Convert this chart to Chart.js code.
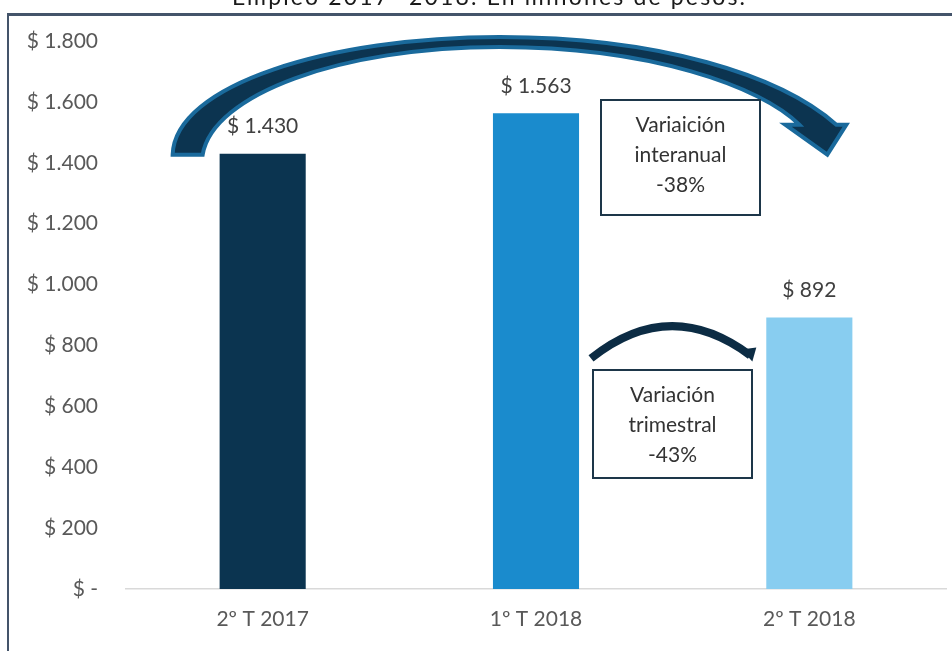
<!DOCTYPE html>
<html>
<head>
<meta charset="utf-8">
<script src="https://cdn.jsdelivr.net/npm/chart.js@4.4.1/dist/chart.umd.min.js"></script>
<style>
	html, body { margin: 0; padding: 0; background: #fff; }
	canvas { display: block; }
</style>
</head>
<body>
<canvas id="chart-empleo" width="952" height="651"></canvas>
<script>
const titulo = "Empleo 2017- 2018. En millones de pesos.";
const categories = ["2º T 2017", "1º T 2018", "2º T 2018"];
const empleo = [1430, 1563, 892];
const barColors = ["#0b3450", "#1a8bcd", "#88cdf0"];
const yTicks = [0, 200, 400, 600, 800, 1000, 1200, 1400, 1600, 1800];
const cajaInteranual = ["Variaición", "interanual", "-38%"];
const cajaTrimestral = ["Variación", "trimestral", "-43%"];

const FONT = "Lato, 'Open Sans', sans-serif";

function fmt(v) {
	if (v === 0) return "$ -";
	return "$ " + String(v).replace(/\B(?=(\d{3})+(?!\d))/g, ".");
}

function drawBox(ctx, left, top, w, h, lines, firstY) {
	ctx.save();
	ctx.fillStyle = "#fff";
	ctx.fillRect(left, top, w, h);
	ctx.strokeStyle = "#1d3649";
	ctx.lineWidth = 2;
	ctx.strokeRect(left, top, w, h);
	ctx.fillStyle = "#333";
	ctx.font = "21px " + FONT;
	ctx.textAlign = "center";
	ctx.textBaseline = "middle";
	lines.forEach((t, i) => ctx.fillText(t, left + w / 2, firstY + i * 30));
	ctx.restore();
}

// frame, title, labels, arrows and boxes
const decor = {
	id: "decor",
	beforeDraw(chart) {
		const ctx = chart.ctx;
		ctx.save();
		ctx.fillStyle = "#fff";
		ctx.fillRect(0, 0, chart.width, chart.height);

		// title, cut by the top edge
		ctx.fillStyle = "#1a1a1a";
		ctx.font = "23px " + FONT;
		ctx.textAlign = "left";
		ctx.textBaseline = "alphabetic";
		let w = ctx.measureText(titulo).width;
		let sp = (513 - w) / (titulo.length - 1);
		ctx.letterSpacing = sp + "px";
		ctx.fillText(titulo, 232, 5);
		ctx.letterSpacing = "0px";

		// frame
		ctx.fillStyle = "#44546a";
		ctx.fillRect(7, 13, chart.width - 7, 3);
		ctx.fillRect(7, 13, 2, chart.height - 13);
		ctx.restore();
	},
	afterDatasetsDraw(chart) {
		const ctx = chart.ctx;
		const x = chart.scales.x;
		const y = chart.scales.y;
		const meta = chart.getDatasetMeta(0);

		// value labels
		ctx.save();
		ctx.fillStyle = "#404040";
		ctx.font = "21px " + FONT;
		ctx.textAlign = "center";
		ctx.textBaseline = "middle";
		meta.data.forEach((bar, i) => {
			ctx.fillText(fmt(empleo[i]), bar.x, bar.y - 27);
		});
		ctx.restore();

		const X0 = x.getPixelForValue(0);
		const X1 = x.getPixelForValue(1);
		const X2 = x.getPixelForValue(2);
		const yA = y.getPixelForValue(empleo[0]) + 1;
		const yTop = y.getPixelForValue(1800);

		// big curved arrow (interanual)
		ctx.save();
		ctx.beginPath();
		ctx.moveTo(X0 - 90, yA);
		ctx.bezierCurveTo(X0 - 88, yA - 70, X0 + 67, yTop - 4, X0 + 237, yTop - 4);
		ctx.bezierCurveTo(X0 + 397, yTop - 4, X2 - 29, yTop + 34, X2 + 27, yA - 30);
		ctx.lineTo(X2 + 37, yA - 30);
		ctx.lineTo(X2 + 18, yA);
		ctx.lineTo(X2 - 24, yA - 30);
		ctx.lineTo(X2 - 10, yA - 30);
		ctx.bezierCurveTo(X2 - 49, yTop + 45, X0 + 387, yTop + 6, X0 + 237, yTop + 6);
		ctx.bezierCurveTo(X0 + 77, yTop + 6, X0 - 50, yA - 60, X0 - 60, yA);
		ctx.closePath();
		ctx.fillStyle = "#0c3450";
		ctx.fill();
		ctx.strokeStyle = "#1a6a9c";
		ctx.lineWidth = 4;
		ctx.lineJoin = "miter";
		ctx.stroke();
		ctx.restore();

		// small arrow (trimestral)
		const yS = y.getPixelForValue(empleo[2]) + 38;
		ctx.save();
		ctx.beginPath();
		ctx.moveTo(X1 + 55, yS + 3);
		ctx.quadraticCurveTo(X1 + 134, yS - 60, X2 - 59, yS);
		ctx.strokeStyle = "#0c2c44";
		ctx.lineWidth = 8;
		ctx.lineCap = "butt";
		ctx.stroke();
		ctx.beginPath();
		ctx.moveTo(X2 - 68, yS - 6);
		ctx.lineTo(X2 - 53, yS - 8);
		ctx.lineTo(X2 - 57, yS + 6);
		ctx.closePath();
		ctx.fillStyle = "#0c2c44";
		ctx.fill();
		ctx.restore();

		// text boxes
		drawBox(ctx, X1 + 65, yTop + 59, 159, 115, cajaInteranual, yTop + 84);
		drawBox(ctx, X1 + 57, y.getPixelForValue(0) - 219, 159, 108, cajaTrimestral, y.getPixelForValue(0) - 194);
	},
};

let ctx = document.getElementById("chart-empleo").getContext("2d");

new Chart(ctx, {
	type: "bar",
	data: {
		labels: categories,
		datasets: [
			{
				label: "Empleo",
				data: empleo,
				backgroundColor: barColors,
				borderWidth: 0,
				barPercentage: 1,
				categoryPercentage: 0.315,
			},
		],
	},
	options: {
		responsive: false,
		animation: false,
		devicePixelRatio: 1,
		layout: {
			padding: { top: 41, right: 6, left: 0, bottom: 0 },
		},
		plugins: {
			legend: { display: false },
			tooltip: { enabled: false },
			title: { display: false },
		},
		scales: {
			x: {
				grid: { display: false, drawTicks: false },
				border: { display: true, color: "#d9d9d9", width: 1.5 },
				ticks: {
					color: "#595959",
					font: { family: FONT, size: 21 },
					padding: 18,
				},
				afterFit: (s) => {
					s.height = 62;
				},
			},
			y: {
				min: 0,
				max: 1800,
				afterBuildTicks: (s) => {
					s.ticks = yTicks.map((v) => ({ value: v }));
				},
				grid: { display: false, drawTicks: false },
				border: { display: false },
				ticks: {
					color: "#595959",
					font: { family: FONT, size: 21 },
					padding: 28,
					callback: (v) => fmt(v),
				},
				afterFit: (s) => {
					s.width = 126;
				},
			},
		},
	},
	plugins: [decor],
});
</script>
</body>
</html>
